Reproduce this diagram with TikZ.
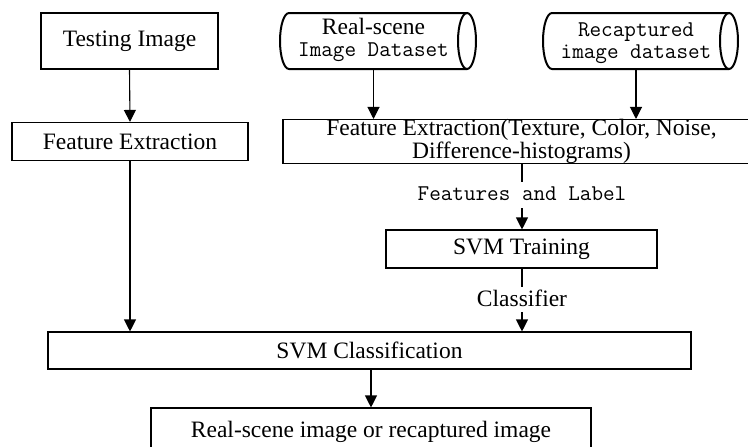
\documentclass[tikz,border=0pt]{standalone}
\usepackage{fontspec}
\setmainfont{Liberation Serif}
\usetikzlibrary{arrows.meta}

% outline of a stored-data symbol: curved left end, full ellipse on the right
\newcommand{\storeoutline}[2]{%
  \draw[cylline] (#2-9,13) -- (#1+9,13)
    arc[start angle=270, end angle=90, x radius=9, y radius=28] -- (#2-9,69);
  \draw[cylline] (#2-9,41) ellipse[x radius=9, y radius=28];
}

\begin{document}
\begin{tikzpicture}[x=1pt,y=-1pt,
  serif/.style={font=\fontsize{23.5}{28}\selectfont},
  box/.style={draw,line width=1.1pt,inner sep=0pt,serif},
  cylline/.style={line width=2pt},
  monolabel/.style={font=\ttfamily\fontsize{22.5}{22}\selectfont,inner xsep=2pt,
    inner ysep=7pt,text height=11pt,text depth=1pt},
  seriflabel/.style={serif,inner xsep=2pt,inner ysep=2pt,text height=17pt,text depth=4pt},
  arr/.style={line width=1.1pt,-{Triangle[width=12pt,length=12pt]}},
  plain/.style={line width=1.1pt}]
\useasboundingbox (0,0) rectangle (748,447);

% left column
\node[box,minimum width=177,minimum height=56] (ti) at (129.5,41) {Testing Image};
\node[box,minimum width=236,minimum height=38] (fel) at (130,141.5) {Feature Extraction};

% data stores
\storeoutline{280}{476}
\storeoutline{543}{738}
\node[align=center,inner sep=0pt,minimum height=58,
  font=\fontsize{23.5}{21.7}\selectfont] (rs) at (373.5,40)
  {Real-scene\\{\ttfamily\fontsize{22.5}{21.7}\selectfont Image Dataset}};
\node[align=center,inner sep=0pt,minimum height=52,
  font=\ttfamily\fontsize{22.5}{21.7}\selectfont] (rc) at (636,43)
  {Recaptured\\image dataset};

% training branch
\node[box,minimum width=477,minimum height=39,align=center,
  font=\fontsize{23.5}{18.5}\selectfont] (fer) at (521.5,141.5)
  {Feature Extraction(Texture, Color, Noise,\\Difference-histograms)};
\node[monolabel] (fl) at (522,195) {Features and Label};
\node[box,minimum width=271,minimum height=38] (svmt) at (521.5,249) {SVM Training};
\node[seriflabel] (cl) at (522,299.5) {Classifier};

% classification and result
\node[box,minimum width=643,minimum height=37] (svmc) at (369.5,350.5) {SVM Classification};
\node[box,minimum width=440,minimum height=47] (res) at (371,431.5)
  {Real-scene image or recaptured image};

% connectors
\draw[arr] (ti.south) -- (fel.north);
\draw[arr] (fel.south) -- (fel.south |- svmc.north);
\draw[arr] (rs.south) -- (rs.south |- fer.north);
\draw[arr] (rc.south) -- (rc.south |- fer.north);
\draw[plain] (fer.south -| fl.north) -- (fl.north);
\draw[arr] (fl.south) -- (fl.south |- svmt.north);
\draw[plain] (svmt.south -| cl.north) -- (cl.north);
\draw[arr] (cl.south) -- (cl.south |- svmc.north);
\draw[arr] (svmc.south -| res.north) -- (res.north);
\end{tikzpicture}
\end{document}
